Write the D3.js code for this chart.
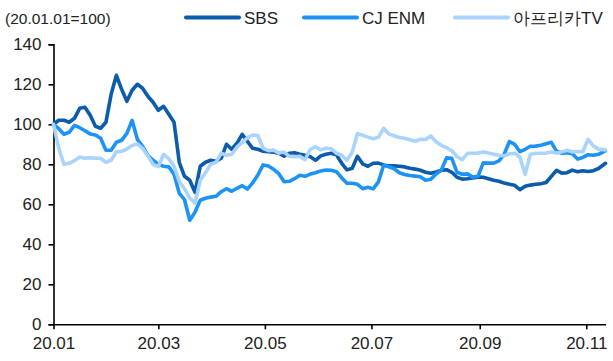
<!DOCTYPE html>
<html>
<head>
<meta charset="utf-8">
<script src="https://cdn.jsdelivr.net/npm/d3@7"></script>
<style>
  html, body { margin: 0; padding: 0; background: #fff; }
  svg { display: block; }
  text { font-family: "Liberation Sans", Arial, sans-serif; fill: #222; }
</style>
</head>
<body>
<svg id="chart" width="613" height="361"></svg>
<script>
// Trading dates (2020), month-day
const dates = [
  "01-01","01-04","01-07","01-10","01-13","01-16","01-19","01-22","01-25","01-28","01-31",
  "02-03","02-06","02-09","02-12","02-15","02-18","02-21","02-24","02-27",
  "03-01","03-04","03-07","03-10","03-13","03-16","03-19","03-22","03-25","03-28","03-31",
  "04-03","04-06","04-09","04-12","04-15","04-18","04-21","04-24","04-27","04-30",
  "05-03","05-06","05-09","05-12","05-15","05-18","05-21","05-24","05-27","05-30",
  "06-02","06-05","06-08","06-11","06-14","06-17","06-20","06-23","06-26","06-29",
  "07-02","07-05","07-08","07-11","07-14","07-17","07-20","07-23","07-26","07-29",
  "08-01","08-04","08-07","08-10","08-13","08-16","08-19","08-22","08-25","08-28","08-31",
  "09-03","09-06","09-09","09-12","09-15","09-18","09-21","09-24","09-27","09-30",
  "10-03","10-06","10-09","10-12","10-15","10-18","10-21","10-24","10-27","10-30",
  "11-02","11-05","11-08","11-12"
];

// Rebased prices (2020.01.01 = 100)
const sbs = [
  100,102,102,101,103,108,108.5,104.5,99,98,101,
  115,124.5,117.5,111.5,117,120,118,114,111,
  107,109,105,101,81,74,72,66,79,81,82,
  81.5,83,90,87.5,90.5,95,91.5,88,87.5,86.5,
  86.3,86,85.5,84,85.5,85.8,85,84.5,83.8,82,
  84.2,85,85.5,84.7,80.5,77.2,78,84,80.2,79,
  80.5,80.6,79.7,79.2,79.2,79,78.7,78,77.6,77,
  76,75.5,76.2,77,77.3,76,73.5,72.6,72.8,73.2,73.6,
  73.5,72.8,72,71.5,70.6,70,69.5,67.3,69,69.6,
  70,70.3,70.9,74,77,75.6,75.8,77.1,76.3,76.8,
  76.4,76.8,77.9,80.5
];

const cjenm = [
  100,97.8,95,96,99.5,98.3,96.8,95.2,94.7,93,87,
  87,91,92,95.5,102,92.5,89,84.5,82,
  80,79,78.7,75,65.5,62.3,52,56,62,63,63.6,
  64,66.3,67.8,66.5,68,69.3,67.6,70.7,74.7,79.7,
  79.2,77.5,75.3,71.3,71.5,72.8,74.5,74,75.1,75.8,
  76.7,77.15,77,76.3,73.2,70.5,70.5,70,67.8,68.5,
  67.7,71.2,79.5,78.8,77.8,75.8,74.9,74.4,74.1,73.8,
  72,72.5,75.2,77,83.2,83,76,75,75.2,73.6,74,
  80.7,80.6,80.6,81.7,85,91.4,90,86.3,87.5,89,
  89.1,89.5,90.3,91,86.5,85.5,85.8,85.3,82.6,83.4,
  84.8,84.5,85,86.8
];

const afreecaTV = [
  100,88,80,80.5,81.8,83.6,83,83.3,83,83,81,
  82,86.3,86.5,87.6,89.4,90.2,88,84.2,80,
  78.8,85,82.8,79,71.5,67.7,63.2,60.5,72,75.8,80,
  81,85.5,84.5,85,88.6,91,93.2,94.65,94.4,88,
  86.8,87.1,85.6,86.1,84,83.8,84,82.3,87.5,88.7,
  87.2,88,87.8,85.5,84.5,82,86,95.3,94.5,93.6,
  92.8,93.5,98,95.2,94.3,93.4,93,92.3,91.5,92.5,
  92.4,94.2,91.3,89.5,88.3,86.8,83.8,82.3,85.5,85.5,85.6,
  86.2,85.7,85,84.5,84.2,85.3,85.5,83.5,75,85,
  85.5,85.5,85.6,86.2,85.6,86.2,87,86.2,86.4,86.3,
  92.5,89.2,87.6,87.2
];

const seriesNames = ["SBS", "CJ ENM", "아프리카TV"];
const seriesColors = ["#0b5cab", "#1e93f6", "#aad4fd"];
const yTicks = [0, 20, 40, 60, 80, 100, 120, 140];
const xTickDates = ["01-01", "03-01", "05-01", "07-01", "09-01", "11-01"];
const baseNote = "(20.01.01=100)";

const parse = d3.timeParse("%Y-%m-%d");
const toDate = md => parse("2020-" + md);
const dateValues = dates.map(toDate);

const svg = d3.select("#chart");

const x = d3.scaleTime()
  .domain([toDate("01-01"), toDate("11-12")])
  .range([53.5, 605.5]);
const y = d3.scaleLinear().domain([0, 140]).range([324.3, 44.3]);

// Axes
const yAxis = d3.axisLeft(y).tickValues(yTicks).tickSize(5).tickPadding(7);
const gy = svg.append("g").attr("transform", `translate(${x.range()[0]},0)`).call(yAxis);
gy.select(".domain").attr("stroke", "#000").attr("stroke-width", 1.6);
gy.selectAll(".tick line").attr("stroke", "#000").attr("stroke-width", 1.6);
gy.selectAll(".tick text").attr("font-size", 17).attr("fill", "#222")
  .attr("font-family", "'Liberation Sans', Arial, sans-serif");

const xAxis = d3.axisBottom(x).tickValues(xTickDates.map(toDate))
  .tickFormat(d3.timeFormat("%y.%m")).tickSize(5).tickPadding(8).tickSizeOuter(0);
const gx = svg.append("g").attr("transform", `translate(0,${y(0)})`).call(xAxis);
gx.select(".domain").attr("stroke", "#000").attr("stroke-width", 1.6);
gx.selectAll(".tick line").attr("stroke", "#000").attr("stroke-width", 1.6);
gx.selectAll(".tick text").attr("font-size", 17).attr("fill", "#222")
  .attr("font-family", "'Liberation Sans', Arial, sans-serif");

// Lines
const allSeries = [sbs, cjenm, afreecaTV];
const line = d3.line()
  .x((d, i) => x(dateValues[i]))
  .y(d => y(d));

allSeries.forEach((vals, si) => {
  svg.append("path")
    .datum(vals)
    .attr("fill", "none")
    .attr("stroke", seriesColors[si])
    .attr("stroke-width", 3.6)
    .attr("stroke-linejoin", "round")
    .attr("stroke-linecap", "round")
    .attr("d", line);
});

// Header note and legend
svg.append("text").attr("x", 5).attr("y", 24).attr("font-size", 15.5).text(baseNote);

const legendX = [186, 304, 455];
seriesNames.forEach((name, i) => {
  const g = svg.append("g").attr("transform", `translate(${legendX[i]},17.5)`);
  g.append("line").attr("x1", 0).attr("x2", 53).attr("y1", 0).attr("y2", 0)
    .attr("stroke", seriesColors[i]).attr("stroke-width", 4).attr("stroke-linecap", "round");
  g.append("text").attr("x", 58).attr("y", 6).attr("font-size", 17).text(name);
});
</script>
</body>
</html>
